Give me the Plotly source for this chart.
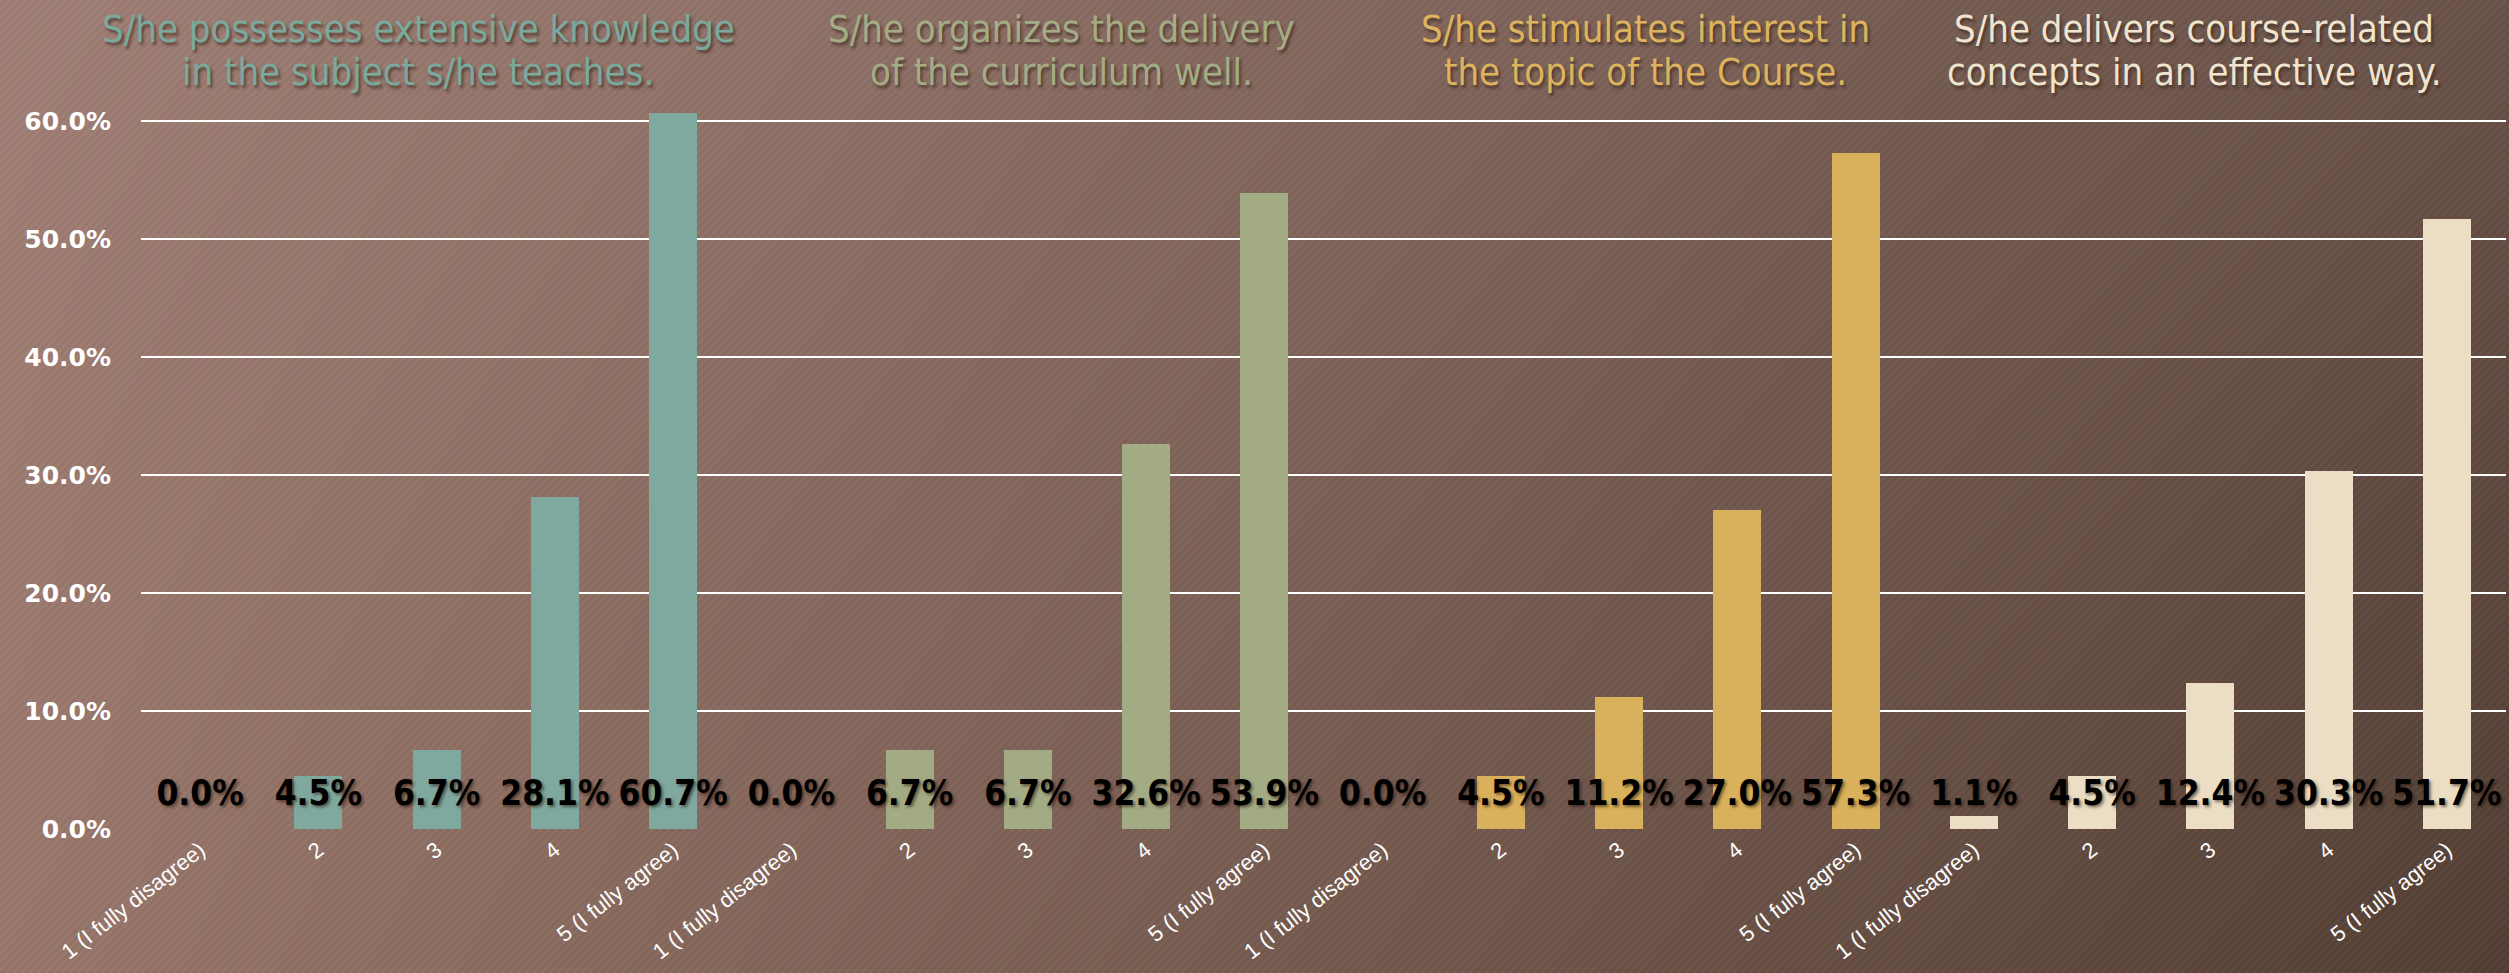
import base64
import struct
import zlib

import numpy as np
import plotly.graph_objects as go

# ---------------- data ----------------
categories = ["1 (I fully disagree)", "2", "3", "4", "5 (I fully agree)"]
question_titles = [
    ["S/he possesses extensive knowledge", "in the subject s/he teaches."],
    ["S/he organizes the delivery", "of the curriculum well."],
    ["S/he stimulates interest in", "the topic of the Course."],
    ["S/he delivers course-related", "concepts in an effective way."],
]
knowledge = [0.0, 4.5, 6.7, 28.1, 60.7]
organization = [0.0, 6.7, 6.7, 32.6, 53.9]
interest = [0.0, 4.5, 11.2, 27.0, 57.3]
delivery = [1.1, 4.5, 12.4, 30.3, 51.7]
y_ticks = [0, 10, 20, 30, 40, 50, 60]

series = [knowledge, organization, interest, delivery]
bar_colors = ["#7fa89e", "#a3ab84", "#d9b15c", "#ebdec4"]
title_colors = ["#7aa99d", "#a4ac86", "#dcb45e", "#efe4cd"]

# ---------------- geometry ----------------
W, H = 2509, 973
PL, PR, PT, PB = 141, 2506, 3, 829  # plot area in pixels
PW, PH = PR - PL, PB - PT


def px_x(p):
    return (p - PL) / PW


def px_y(p):
    return (PB - p) / PH


# ---------------- background image (gradient + diagonal stripes) ----------------
yy, xx = np.mgrid[0:H, 0:W].astype(np.float32)
u = (xx / (W - 1))[..., None]
v = (yy / (H - 1))[..., None]
c_tl = np.array([160, 128, 118], np.float32)
c_tr = np.array([106, 83, 74], np.float32)
c_bl = np.array([152, 119, 107], np.float32)
c_br = np.array([84, 64, 54], np.float32)
img = (c_tl * (1 - u) * (1 - v) + c_tr * u * (1 - v) + c_bl * (1 - u) * v + c_br * u * v)
stripe = np.where(((xx + yy) % 8) < 4, 3.0, -3.0)[..., None]
img = np.clip(img + stripe, 0, 255).astype(np.uint8)
raw = np.concatenate([np.zeros((H, 1), np.uint8), img.reshape(H, W * 3)], axis=1).tobytes()


def chunk(tag, data):
    return struct.pack(">I", len(data)) + tag + data + struct.pack(">I", zlib.crc32(tag + data) & 0xFFFFFFFF)


png = (b"\x89PNG\r\n\x1a\n" + chunk(b"IHDR", struct.pack(">IIBBBBB", W, H, 8, 2, 0, 0, 0))
       + chunk(b"IDAT", zlib.compress(raw, 9)) + chunk(b"IEND", b""))
bg_uri = "data:image/png;base64," + base64.b64encode(png).decode()

# ---------------- figure ----------------
fig = go.Figure()
n = len(categories)
all_x, all_text, tick_text = [], [], []
for g, vals in enumerate(series):
    xs = [g * n + i for i in range(n)]
    fig.add_trace(go.Bar(
        x=xs, y=[v / 100 for v in vals], width=0.406,
        marker=dict(color=bar_colors[g], line=dict(width=0)),
        hoverinfo="skip", showlegend=False,
    ))
    all_x += xs
    all_text += [f"{v:.1f}%" for v in vals]
    tick_text += categories

label_font = "DejaVu Sans Condensed, Liberation Sans Narrow, Arial Narrow, sans-serif"
fig.add_trace(go.Scatter(
    x=all_x, y=[0.028] * len(all_x), mode="text", text=all_text,
    textposition="middle center",
    textfont=dict(family=label_font, size=35, color="#000000", weight="bold",
                  shadow="2px 2px 3px rgba(40,20,10,0.55)"),
    hoverinfo="skip", showlegend=False,
))

title_font = "Liberation Sans Narrow, DejaVu Sans Condensed, Arial Narrow, sans-serif"
title_centers = [418, 1061, 1645, 2194]
line_y = [29, 72]
for g, lines in enumerate(question_titles):
    for k, line in enumerate(lines):
        fig.add_annotation(
            x=px_x(title_centers[g]), y=px_y(line_y[k]), xref="paper", yref="paper",
            text=line, showarrow=False, xanchor="center", yanchor="middle",
            font=dict(family=title_font, size=38, color=title_colors[g],
                      shadow="2px 3px 3px rgba(50,30,20,0.6)"),
        )

fig.update_layout(
    width=W, height=H,
    margin=dict(l=PL, r=W - PR, t=PT, b=H - PB, pad=0, autoexpand=False),
    paper_bgcolor="#7d6257", plot_bgcolor="rgba(0,0,0,0)",
    barmode="overlay", bargap=0, hovermode=False,
    images=[dict(source=bg_uri, xref="paper", yref="paper",
                 x=px_x(0), y=px_y(0), sizex=W / PW, sizey=H / PH,
                 xanchor="left", yanchor="top", sizing="stretch", layer="below")],
    xaxis=dict(range=[-0.5, len(all_x) - 0.5], tickmode="array", tickvals=all_x,
               ticktext=tick_text, tickangle=-38, showgrid=False, zeroline=False,
               showline=False, ticks="", ticklabelstandoff=3, automargin=False,
               tickfont=dict(family="Liberation Sans, Arial, sans-serif", size=22,
                             color="#ffffff")),
    yaxis=dict(range=[0, 0.7], tickmode="array", tickvals=[t / 100 for t in y_ticks],
               tickformat=".1%", showgrid=True, gridcolor="#ffffff", gridwidth=2,
               zeroline=False, showline=False, ticks="", ticklabelstandoff=29,
               automargin=False,
               tickfont=dict(family="DejaVu Sans, Verdana, sans-serif", size=25,
                             color="#ffffff", weight="bold")),
)

fig.write_html("out.html", config={"displayModeBar": False},
               post_script="document.body.style.margin='0';document.body.style.overflow='hidden';")
